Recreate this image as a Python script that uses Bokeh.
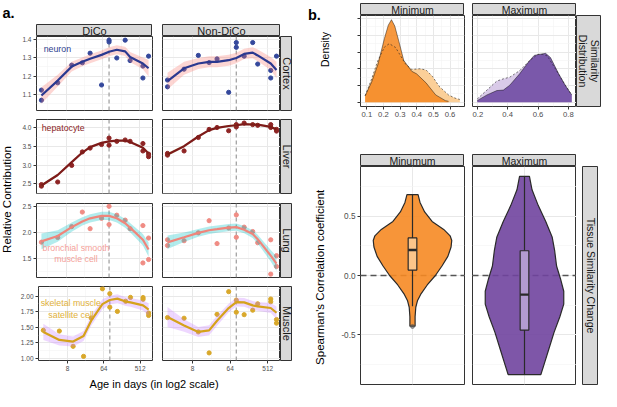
import numpy as np
from bokeh.plotting import figure
from bokeh.layouts import row, column
from bokeh.models import (Range1d, LinearAxis, LogAxis, FixedTicker, Grid, Span, Spacer,
                          PrintfTickFormatter, BasicTickFormatter, CustomJSTickFormatter)
from bokeh.core.properties import value
from bokeh.embed import file_html
from bokeh.resources import INLINE

FONT = "Liberation Sans"
BORDER = "#333333"
STRIP_BG = "#D9D9D9"

# ---------------- panel a data ----------------
ages = [2, 5, 11, 20, 31, 59, 90, 139, 223, 294, 605, 832]
onset_age = 90

cortex_dico_x = [2, 2, 5, 11, 20, 31, 59, 90, 90, 139, 223, 294, 605, 605, 832]
cortex_dico_y = [1.124, 1.069, 1.164, 1.260, 1.273, 1.325, 1.152, 1.396, 1.386, 1.299, 1.396, 1.285, 1.255, 1.190, 1.309]
cortex_dico_fit = [1.095, 1.176, 1.252, 1.278, 1.295, 1.316, 1.333, 1.344, 1.335, 1.304, 1.269, 1.243]
cortex_dico_se = [0.045, 0.032, 0.026, 0.024, 0.024, 0.024, 0.024, 0.024, 0.025, 0.027, 0.032, 0.045]

cortex_non_x = [2, 2, 5, 11, 20, 31, 59, 90, 90, 139, 223, 294, 605, 605, 832]
cortex_non_y = [1.179, 1.142, 1.238, 1.313, 1.274, 1.294, 1.112, 1.383, 1.357, 1.309, 1.383, 1.266, 1.231, 1.190, 1.309]
cortex_non_fit = [1.173, 1.243, 1.269, 1.278, 1.278, 1.287, 1.299, 1.321, 1.328, 1.313, 1.269, 1.234]
cortex_non_se = [0.045, 0.035, 0.03, 0.03, 0.03, 0.03, 0.028, 0.028, 0.03, 0.032, 0.035, 0.045]

liver_dico_x = [2, 2, 5, 11, 20, 31, 59, 90, 90, 139, 223, 294, 605, 605, 832, 832]
liver_dico_y = [2.483, 2.442, 2.553, 2.997, 3.357, 3.46, 3.555, 3.727, 3.537, 3.64, 3.676, 3.64, 3.581, 3.383, 3.298, 3.229]
liver_dico_fit = [2.458, 2.74, 3.085, 3.34, 3.486, 3.599, 3.64, 3.658, 3.66, 3.625, 3.47, 3.316]
liver_dico_se = [0.04, 0.03, 0.025, 0.025, 0.025, 0.025, 0.025, 0.025, 0.025, 0.025, 0.03, 0.04]

liver_non_x = [2, 2, 5, 11, 20, 31, 59, 90, 90, 139, 223, 294, 605, 605, 832, 832]
liver_non_y = [3.316, 3.272, 3.383, 3.743, 3.959, 4.01, 3.923, 4.087, 4.026, 4.129, 4.087, 4.069, 4.087, 4.01, 3.959, 3.915]
liver_non_fit = [3.29, 3.51, 3.77, 3.94, 4.0, 4.05, 4.07, 4.1, 4.09, 4.087, 4.026, 3.96]
liver_non_se = [0.04, 0.03, 0.025, 0.025, 0.025, 0.025, 0.025, 0.025, 0.025, 0.025, 0.03, 0.04]

lung_dico_x = [2, 5, 11, 20, 31, 59, 90, 90, 139, 223, 294, 605, 605, 832, 832]
lung_dico_y = [1.81, 1.9, 2.11, 2.39, 2.07, 2.27, 2.5, 2.15, 2.33, 2.235, 2.07, 2.13, 1.41, 1.89, 1.476]
lung_dico_fit = [1.825, 1.93, 2.10, 2.21, 2.27, 2.316, 2.316, 2.27, 2.175, 2.09, 1.856, 1.67]
lung_dico_se = [0.15, 0.11, 0.09, 0.08, 0.08, 0.08, 0.08, 0.08, 0.085, 0.09, 0.11, 0.14]

lung_non_x = [2, 2, 5, 11, 20, 31, 59, 90, 90, 139, 223, 294, 605, 605, 832, 832]
lung_non_y = [1.856, 1.746, 1.838, 1.99, 2.224, 1.783, 2.083, 2.335, 1.905, 2.1, 2.015, 1.8, 1.856, 1.195, 1.55, 1.342]
lung_non_fit = [1.807, 1.905, 1.99, 2.04, 2.06, 2.09, 2.1, 2.05, 1.967, 1.868, 1.55, 1.397]
lung_non_se = [0.13, 0.09, 0.075, 0.07, 0.07, 0.07, 0.07, 0.07, 0.075, 0.085, 0.11, 0.14]

muscle_dico_x = [2, 5, 11, 20, 31, 59, 90, 90, 139, 223, 294, 605, 605, 832, 832]
muscle_dico_y = [1.452, 1.44, 1.195, 1.034, 1.65, 2.118, 2.04, 1.823, 1.755, 1.918, 1.98, 1.978, 1.95, 1.728, 1.69]
muscle_dico_fit = [1.426, 1.298, 1.272, 1.36, 1.606, 1.872, 1.938, 1.96, 1.913, 1.90, 1.852, 1.785]
muscle_dico_se = [0.13, 0.09, 0.08, 0.08, 0.08, 0.08, 0.07, 0.07, 0.07, 0.07, 0.08, 0.1]

muscle_non_x = [2, 5, 11, 20, 31, 59, 90, 90, 139, 223, 294, 605, 605, 832, 832]
muscle_non_y = [1.657, 1.646, 1.426, 1.09, 1.708, 2.072, 1.936, 1.742, 1.703, 1.775, 1.877, 1.954, 1.91, 1.625, 1.567]
muscle_non_fit = [1.667, 1.529, 1.426, 1.452, 1.606, 1.81, 1.903, 1.9, 1.852, 1.837, 1.81, 1.734]
muscle_non_se = [0.16, 0.1, 0.08, 0.08, 0.08, 0.07, 0.07, 0.07, 0.07, 0.07, 0.08, 0.1]

tissues = ["Cortex", "Liver", "Lung", "Muscle"]
conditions = ["DiCo", "Non-DiCo"]
cell_labels = [["neuron"], ["hepatocyte"], ["bronchial smooth", "muscle cell"], ["skeletal muscle", "satellite cell"]]

# ---------------- panel b data ----------------
min_dark_x = [0.090, 0.129, 0.167, 0.206, 0.229, 0.248, 0.268, 0.293, 0.322, 0.370, 0.399, 0.456, 0.514, 0.572, 0.591]
min_dark_y = [0.39, 1.21, 2.27, 3.82, 4.6, 4.93, 4.55, 3.62, 2.5, 1.85, 1.7, 1.16, 0.44, 0.1, 0.06]
min_light_x = [0.090, 0.129, 0.167, 0.206, 0.235, 0.273, 0.302, 0.331, 0.370, 0.418, 0.456, 0.495, 0.534, 0.591, 0.630, 0.659]
min_light_y = [0.39, 1.4, 2.5, 3.3, 3.5, 3.27, 2.79, 2.3, 1.96, 2.0, 1.93, 1.54, 0.96, 0.44, 0.25, 0.17]
max_dark_x = [0.2, 0.264, 0.329, 0.372, 0.414, 0.479, 0.543, 0.575, 0.607, 0.650, 0.682, 0.736, 0.779, 0.817, 0.822]
max_dark_y = [0.1, 0.44, 0.7, 0.73, 1.02, 1.7, 2.47, 2.8, 2.86, 2.92, 2.67, 1.7, 1.02, 0.5, 0.45]
max_light_x = [0.2, 0.264, 0.329, 0.372, 0.414, 0.479, 0.543, 0.597, 0.629, 0.661, 0.714, 0.779, 0.822]
max_light_y = [0.2, 0.73, 1.27, 1.4, 1.5, 1.89, 2.47, 2.86, 2.86, 2.77, 2.0, 1.02, 0.44]

vmin_y = [0.683, 0.617, 0.536, 0.456, 0.389, 0.335, 0.295, 0.241, 0.161, 0.08, 0.0, -0.08, -0.16, -0.214, -0.268, -0.348, -0.428]
vmin_hw = [0.064, 0.087, 0.14, 0.226, 0.36, 0.434, 0.453, 0.445, 0.408, 0.34, 0.264, 0.17, 0.094, 0.057, 0.038, 0.03, 0.03]
vmin_stats = [0.046, 0.215, 0.317, -0.26, 0.683]   # q1, median, q3, lower whisker, upper whisker
vmin_outliers = [-0.43]
vmax_y = [0.836, 0.723, 0.59, 0.456, 0.322, 0.215, 0.08, -0.027, -0.133, -0.241, -0.348, -0.482, -0.616, -0.75, -0.836]
vmax_hw = [0.057, 0.087, 0.159, 0.245, 0.32, 0.347, 0.37, 0.415, 0.453, 0.453, 0.408, 0.34, 0.283, 0.226, 0.189]
vmax_stats = [-0.461, -0.161, 0.209, -0.836, 0.836]
vmax_outliers = []

# ---------------- styling ----------------
LINE_C = ["#2B3990", "#7E1A1A", "#F0857B", "#D5A21B"]
PT_C = ["#34489C", "#8E2424", "#F08C84", "#D9A82A"]
BAND_C = ["#F8766D", "#7CAE00", "#00BFC4", "#C77CFF"]
LABEL_C = ["#2E3F8F", "#8B1E1E", "#F4A19A", "#E0B03A"]
Y_RANGE = [(1.013, 1.416), (2.245, 4.224), (1.13, 2.555), (0.968, 2.155)]
Y_TICKS = [[1.1, 1.2, 1.3, 1.4], [2.5, 3.0, 3.5, 4.0], [1.5, 2.0, 2.5], [1.0, 1.25, 1.5, 1.75, 2.0]]
Y_MINOR = [[1.05, 1.15, 1.25, 1.35], [2.25, 2.75, 3.25, 3.75], [1.25, 1.75, 2.25], [1.125, 1.375, 1.625, 1.875, 2.125]]
Y_FMT = ["%.1f", "%.1f", "%.1f", "%.2f"]
LABEL_POS = [[(4.9, 1.348)], [(6.8, 3.985)], [(14, 1.691), (14, 1.489)], [(9.6, 1.888), (9.8, 1.698)]]
X_RANGE_A = (2 ** 0.6, 2 ** 10.02)


def base_fig(fw, fh, left=0, right=0, top=0, bottom=0, xr=(0, 1), yr=(0, 1), x_type="linear", bg="white"):
    p = figure(width=fw + left + right, height=fh + top + bottom,
               x_range=Range1d(*xr), y_range=Range1d(*yr), x_axis_type=x_type,
               x_axis_location=None, y_axis_location=None, toolbar_location=None,
               title_location=None, output_backend="svg",
               min_border_left=left, min_border_right=right, min_border_top=top, min_border_bottom=bottom,
               background_fill_color=bg, border_fill_color="white", outline_line_color=None)
    p.center = []
    return p


def add_grid(p, dim, major, minor):
    p.add_layout(Grid(dimension=dim, ticker=FixedTicker(ticks=major, minor_ticks=minor),
                      grid_line_color="#E8E8E8", grid_line_width=1,
                      minor_grid_line_color="#F3F3F3", minor_grid_line_width=0.6))


def style_axis(ax, size):
    ax.axis_line_color = None
    ax.major_tick_line_color = BORDER
    ax.major_tick_line_width = 1
    ax.major_tick_out = 3
    ax.major_tick_in = 0
    ax.minor_tick_line_color = None
    ax.major_label_text_font = FONT
    ax.major_label_text_font_size = size
    ax.major_label_text_color = "#4D4D4D"
    ax.major_label_standoff = 2


def strip(text, fw, fh, top=0, bottom=0, vertical=False, size="11px"):
    p = base_fig(fw, fh, top=top, bottom=bottom, bg=STRIP_BG)
    p.outline_line_color = BORDER
    p.outline_line_width = 1
    lines = text if isinstance(text, list) else [text]
    n = len(lines)
    for i, t in enumerate(lines):
        if vertical:
            x, y, ang = (n - i - 0.5) / n if n > 1 else 0.5, 0.5, -np.pi / 2
        else:
            x, y, ang = 0.5, 0.5, 0.0
        p.text(x=[x], y=[y], text=[t], angle=ang, text_align="center", text_baseline="middle",
               text_font=value(FONT), text_font_size=size, text_color="#1A1A1A")
    return p


# ---------------- panel a ----------------
DATA_A = [
    [(cortex_dico_x, cortex_dico_y, cortex_dico_fit, cortex_dico_se), (cortex_non_x, cortex_non_y, cortex_non_fit, cortex_non_se)],
    [(liver_dico_x, liver_dico_y, liver_dico_fit, liver_dico_se), (liver_non_x, liver_non_y, liver_non_fit, liver_non_se)],
    [(lung_dico_x, lung_dico_y, lung_dico_fit, lung_dico_se), (lung_non_x, lung_non_y, lung_non_fit, lung_non_se)],
    [(muscle_dico_x, muscle_dico_y, muscle_dico_fit, muscle_dico_se), (muscle_non_x, muscle_non_y, muscle_non_fit, muscle_non_se)],
]
A_FW = [116, 118]
A_LEFT = [19, 0]
A_RIGHT = [10, 0]
A_FH = 74
A_BOTTOM = [9, 10, 9, 14]


def a_panel(r, c):
    px, py, fit, se = DATA_A[r][c]
    p = base_fig(A_FW[c], A_FH, left=A_LEFT[c], right=A_RIGHT[c], bottom=A_BOTTOM[r],
                 xr=X_RANGE_A, yr=Y_RANGE[r], x_type="log")
    p.outline_line_color = BORDER
    p.outline_line_width = 1
    add_grid(p, 0, [8, 64, 512], [2 ** 1.5, 2 ** 4.5, 2 ** 7.5])
    add_grid(p, 1, Y_TICKS[r], Y_MINOR[r])
    p.add_layout(Span(location=onset_age, dimension="height", line_color="#A3A3A3",
                      line_dash="4 3", line_width=1.3, level="underlay"))
    p.scatter(px, py, size=4.2, color=PT_C[r], marker="circle")
    lo = [f - s for f, s in zip(fit, se)]
    hi = [f + s for f, s in zip(fit, se)]
    p.varea(x=ages, y1=lo, y2=hi, fill_color=BAND_C[r], fill_alpha=0.3)
    p.line(ages, fit, line_color=LINE_C[r], line_width=2.2)
    if c == 0:
        ya = LinearAxis(ticker=FixedTicker(ticks=Y_TICKS[r]), formatter=PrintfTickFormatter(format=Y_FMT[r]))
        style_axis(ya, "6.5px")
        p.add_layout(ya, "left")
        for t, (lx, ly) in zip(cell_labels[r], LABEL_POS[r]):
            p.text(x=[lx], y=[ly], text=[t], text_align="center", text_baseline="middle",
                   text_font=value(FONT), text_font_size="8.8px", text_color=LABEL_C[r])
    if r == 3:
        xa = LogAxis(ticker=FixedTicker(ticks=[8, 64, 512]), formatter=BasicTickFormatter())
        style_axis(xa, "6.5px")
        p.add_layout(xa, "below")
    return p


top_a = row(Spacer(width=19, height=36), strip("DiCo", 116, 12, top=24), Spacer(width=10, height=36),
            strip("Non-DiCo", 118, 12, top=24), Spacer(width=12, height=36))
rows_a = []
for r in range(4):
    rows_a.append(row(a_panel(r, 0), a_panel(r, 1),
                      strip(tissues[r], 12, A_FH, bottom=A_BOTTOM[r], vertical=True)))
xlab = base_fig(275, 17, xr=(0, 275), yr=(0, 17))
xlab.text(x=[136.6], y=[7.2], text=["Age in days (in log2 scale)"], text_align="center",
          text_baseline="middle", text_font=value(FONT), text_font_size="11px", text_color="#000000")
col_a = column(top_a, *rows_a, xlab)

alab = base_fig(17, 391, xr=(0, 17), yr=(0, 391))
alab.text(x=[2], y=[378.5], text=["a."], text_align="left", text_baseline="alphabetic",
          text_font=value(FONT), text_font_size="14.5px", text_font_style="bold", text_color="#000000")
alab.text(x=[6.5], y=[192], text=["Relative Contribution"], angle=np.pi / 2, text_align="center",
          text_baseline="middle", text_font=value(FONT), text_font_size="11.5px", text_color="#000000")

# ---------------- panel b ----------------
def dens_panel(left, right, xr, xmajor, xminor, lx, ly, dx, dy, light_fill, dark_fill, show_y):
    p = base_fig(104, 91, left=left, right=right, bottom=48, xr=xr, yr=(-0.25, 5.18))
    p.outline_line_color = BORDER
    p.outline_line_width = 1
    add_grid(p, 0, xmajor, xminor)
    add_grid(p, 1, [0, 1, 2, 3, 4, 5], [0.5, 1.5, 2.5, 3.5, 4.5])
    p.varea(x=lx, y1=[0] * len(lx), y2=ly, fill_color=light_fill, fill_alpha=1.0)
    p.varea(x=dx, y1=[0] * len(dx), y2=dy, fill_color=dark_fill, fill_alpha=0.86)
    p.line(dx, dy, line_color="#000000", line_width=0.8, line_alpha=0.55)
    p.line(lx, ly, line_color="#222222", line_width=0.8, line_dash="2 2", line_alpha=0.75)
    xa = LinearAxis(ticker=FixedTicker(ticks=xmajor), formatter=PrintfTickFormatter(format="%.1f"))
    style_axis(xa, "7.7px")
    p.add_layout(xa, "below")
    if show_y:
        ya = LinearAxis(ticker=FixedTicker(ticks=[0, 1, 2, 3, 4, 5]), formatter=CustomJSTickFormatter(code="return ''"))
        style_axis(ya, "7px")
        p.add_layout(ya, "left")
    return p


BOX_HW = 0.05


def violin_panel(left, right, vy, vhw, stats, outl, fill, box_fill, show_y):
    p = base_fig(104, 218, left=left, right=right, bottom=7, xr=(0.4, 1.6), yr=(-0.92, 0.92))
    p.outline_line_color = BORDER
    p.outline_line_width = 1
    add_grid(p, 0, [1], [])
    add_grid(p, 1, [-0.5, 0.0, 0.5], [-0.75, -0.25, 0.25, 0.75])
    p.add_layout(Span(location=0, dimension="width", line_color="#555555", line_dash="6 4",
                      line_width=1.3, level="underlay"))
    xs = [1 + h for h in vhw] + [1 - h for h in reversed(vhw)]
    ys = list(vy) + list(reversed(vy))
    p.patch(xs, ys, fill_color=fill, fill_alpha=0.9, line_color="#2A2A2A", line_width=1.2)
    q1, med, q3, wlo, whi = stats
    p.segment(x0=[1, 1], y0=[q3, q1], x1=[1, 1], y1=[whi, wlo], line_color="#2A2A2A", line_width=1.2)
    p.quad(left=[1 - BOX_HW], right=[1 + BOX_HW], bottom=[q1], top=[q3], fill_color=box_fill,
           line_color="#2A2A2A", line_width=1.2)
    p.segment(x0=[1 - BOX_HW], x1=[1 + BOX_HW], y0=[med], y1=[med], line_color="#2A2A2A", line_width=2.4)
    if outl:
        p.scatter([1] * len(outl), outl, size=4, color="#555555", alpha=0.55)
    if show_y:
        ya = LinearAxis(ticker=FixedTicker(ticks=[-0.5, 0.0, 0.5]), formatter=PrintfTickFormatter(format="%.1f"))
        style_axis(ya, "8.2px")
        p.add_layout(ya, "left")
    return p


top_b = row(Spacer(width=24, height=15), strip("Minimum", 104, 12, top=3, size="10.5px"), Spacer(width=8, height=15),
            strip("Maximum", 104, 12, top=3, size="10.5px"), Spacer(width=25, height=15))
dens_row = row(
    dens_panel(24, 8, (0.062, 0.687), [0.1, 0.2, 0.3, 0.4, 0.5, 0.6], [0.15, 0.25, 0.35, 0.45, 0.55, 0.65],
               min_light_x, min_light_y, min_dark_x, min_dark_y, "#FBCF98", "#F5871F", True),
    dens_panel(0, 0, (0.169, 0.853), [0.2, 0.4, 0.6, 0.8], [0.3, 0.5, 0.7],
               max_light_x, max_light_y, max_dark_x, max_dark_y, "#D9CAE8", "#6A45A0", False),
    strip(["Similarity", "Distribution"], 25, 91, bottom=48, vertical=True, size="10.5px"),
)
vstrip_row = row(Spacer(width=24, height=12), strip("Minumum", 104, 12, size="10.5px"), Spacer(width=8, height=12),
                 strip("Maximum", 104, 12, size="10.5px"), Spacer(width=25, height=12))
violin_row = row(
    violin_panel(24, 8, vmin_y, vmin_hw, vmin_stats, vmin_outliers, "#F68A24", "#FCC58A", True),
    violin_panel(0, 0, vmax_y, vmax_hw, vmax_stats, vmax_outliers, "#70449E", "#B39BD1", False),
    Spacer(width=6, height=225),
    strip("Tissue Similarity Change", 16, 218, bottom=7, vertical=True, size="10.5px"),
    Spacer(width=3, height=225),
)
col_b = column(top_b, dens_row, vstrip_row, violin_row)

blab = base_fig(44, 391, xr=(0, 44), yr=(0, 391))
blab.text(x=[15.5], y=[376.6], text=["b."], text_align="left", text_baseline="alphabetic",
          text_font=value(FONT), text_font_size="14.5px", text_font_style="bold", text_color="#000000")
blab.text(x=[32], y=[342], text=["Density"], angle=np.pi / 2, text_align="center", text_baseline="middle",
          text_font=value(FONT), text_font_size="10.5px", text_color="#000000")
blab.text(x=[27.3], y=[114.2], text=["Spearman's Correlation coefficient"], angle=np.pi / 2,
          text_align="center", text_baseline="middle", text_font=value(FONT), text_font_size="11.5px",
          text_color="#000000")

page = row(alab, col_a, blab, col_b)
open("out.html", "w").write(file_html(page, INLINE))
